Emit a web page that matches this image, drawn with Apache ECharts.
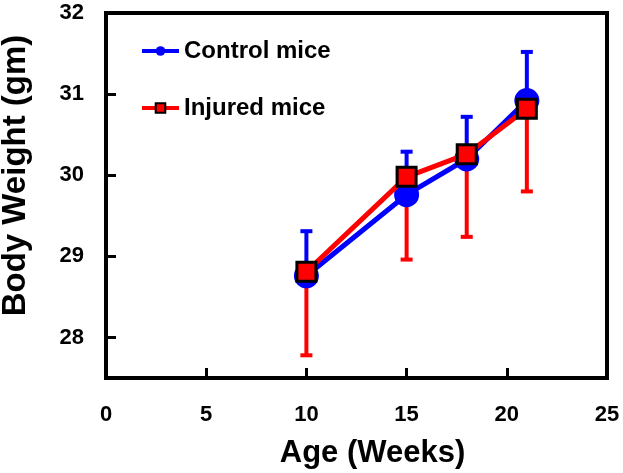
<!DOCTYPE html>
<html>
<head>
<meta charset="utf-8">
<script src="https://cdn.jsdelivr.net/npm/echarts@6/dist/echarts.min.js"></script>
<style>
  html, body { margin: 0; padding: 0; background: #fff; }
  #chart { width: 623px; height: 473px; }
</style>
</head>
<body>
<div id="chart"></div>
<script>
var weeks = [10, 15, 18, 21];
var controlMean = [28.76, 29.76, 30.2, 30.92];
var controlUpper = [29.31, 30.29, 30.72, 31.52];
var injuredMean = [28.81, 29.98, 30.26, 30.82];
var injuredLower = [27.78, 28.96, 29.24, 29.8];
var xTicks = [0, 5, 10, 15, 20, 25];
var yTicks = [28, 29, 30, 31, 32];

var font = 'Liberation Sans, Arial, sans-serif';

function pairs(xs, ys) {
  return xs.map(function (x, i) { return [x, ys[i]]; });
}
function bars(xs, from, to) {
  return xs.map(function (x, i) { return [x, from[i], to[i]]; });
}

// vertical bar from the mean to one end, with a cap
function errorBar(color) {
  return function (params, api) {
    var p0 = api.coord([api.value(0), api.value(1)]);
    var p1 = api.coord([api.value(0), api.value(2)]);
    var half = 6;
    var st = { stroke: color, lineWidth: 4 };
    return {
      type: 'group',
      children: [
        { type: 'line', shape: { x1: p0[0], y1: p0[1], x2: p1[0], y2: p1[1] }, style: st },
        { type: 'line', shape: { x1: p1[0] - half, y1: p1[1], x2: p1[0] + half, y2: p1[1] }, style: st }
      ]
    };
  };
}

var myChart = echarts.init(document.getElementById('chart'));

var option = {
  animation: false,
  backgroundColor: '#fff',
  grid: {
    left: 106, right: 16, top: 13, bottom: 95,
    outerBoundsMode: 'none', containLabel: false,
    show: true, borderColor: '#000', borderWidth: 4
  },
  legend: {
    left: 135, top: 34, orient: 'vertical', itemGap: 33,
    itemWidth: 37, itemHeight: 12,
    lineStyle: { width: 4 },
    textStyle: { fontFamily: font, fontWeight: 'bold', fontSize: 24, color: '#000', padding: [0, 0, 0, 0] },
    data: ['Control mice', 'Injured mice']
  },
  xAxis: {
    type: 'value', min: 0, max: 25, interval: 5,
    name: 'Age (Weeks)', nameLocation: 'middle', nameGap: 60,
    nameTextStyle: { fontFamily: font, fontWeight: 'bold', fontSize: 31, color: '#000', padding: [0, 0, 0, 32] },
    axisLine: { lineStyle: { color: '#000', width: 4 } },
    axisTick: { inside: true, length: 10, lineStyle: { color: '#000', width: 3 } },
    axisLabel: {
      margin: 26, fontFamily: font, fontWeight: 'bold', fontSize: 22, color: '#000',
      formatter: function (v) { return xTicks.indexOf(v) >= 0 ? String(v) : ''; }
    },
    splitLine: { show: false }
  },
  yAxis: {
    type: 'value', min: 27.5, max: 32,
    name: 'Body Weight (gm)', nameLocation: 'middle', nameGap: 74,
    nameTextStyle: { fontFamily: font, fontWeight: 'bold', fontSize: 33, color: '#000', padding: [0, 0, 0, 40] },
    axisLine: { lineStyle: { color: '#000', width: 4 } },
    axisTick: { inside: true, length: 10, customValues: yTicks, lineStyle: { color: '#000', width: 3 } },
    axisLabel: {
      margin: 22, fontFamily: font, fontWeight: 'bold', fontSize: 22, color: '#000',
      customValues: yTicks
    },
    splitLine: { show: false }
  },
  series: [
    {
      name: 'injuredErr', type: 'custom', z: 1,
      renderItem: errorBar('#ff0000'),
      data: bars(weeks, injuredMean, injuredLower)
    },
    {
      name: 'controlErr', type: 'custom', z: 2,
      renderItem: errorBar('#0000ff'),
      data: bars(weeks, controlMean, controlUpper)
    },
    {
      name: 'Control mice', type: 'line', z: 3,
      symbol: 'circle', symbolSize: 25,
      lineStyle: { color: '#0000ff', width: 5 },
      itemStyle: { color: '#0000ff' },
      data: pairs(weeks, controlMean)
    },
    {
      name: 'Injured mice', type: 'line', z: 4,
      symbol: 'rect', symbolSize: 19,
      lineStyle: { color: '#ff0000', width: 5 },
      itemStyle: { color: '#ff0000', borderColor: '#000', borderWidth: 3 },
      data: pairs(weeks, injuredMean)
    }
  ]
};

myChart.setOption(option);
</script>
</body>
</html>
